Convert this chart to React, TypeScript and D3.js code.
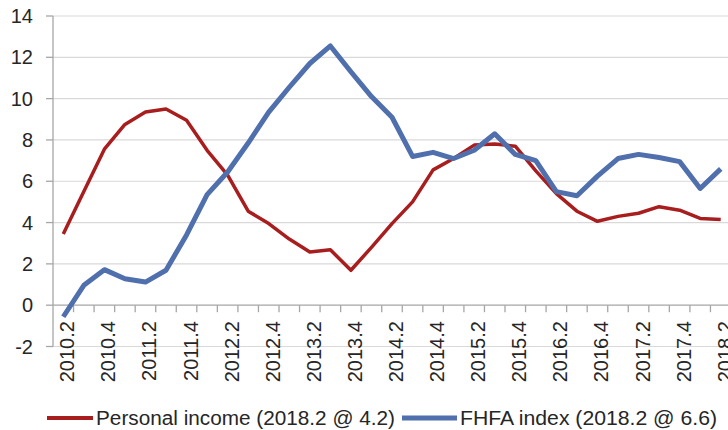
import React from "react";
import * as d3 from "d3";

const quarters: string[] = [
  "2010.2","2010.3","2010.4",
  "2011.1","2011.2","2011.3","2011.4",
  "2012.1","2012.2","2012.3","2012.4",
  "2013.1","2013.2","2013.3","2013.4",
  "2014.1","2014.2","2014.3","2014.4",
  "2015.1","2015.2","2015.3","2015.4",
  "2016.1","2016.2","2016.3","2016.4",
  "2017.1","2017.2","2017.3","2017.4",
  "2018.1","2018.2",
];

const personalIncome: number[] = [
  3.45, 5.5, 7.55, 8.75, 9.35, 9.5, 8.95, 7.5, 6.3, 4.55, 3.95, 3.2, 2.57,
  2.68, 1.69, 2.8, 3.95, 5.0, 6.55, 7.1, 7.75, 7.8, 7.7, 6.5, 5.4, 4.55,
  4.06, 4.3, 4.45, 4.77, 4.6, 4.2, 4.15,
];

const fhfaIndex: number[] = [
  -0.56, 0.96, 1.72, 1.28, 1.12, 1.69, 3.4, 5.35, 6.45, 7.85, 9.35, 10.55,
  11.7, 12.55, 11.3, 10.1, 9.1, 7.2, 7.4, 7.1, 7.5, 8.3, 7.3, 7.0, 5.5, 5.3,
  6.25, 7.1, 7.3, 7.15, 6.95, 5.65, 6.6,
];

const yTicks: number[] = [-2, 0, 2, 4, 6, 8, 10, 12, 14];

const seriesNames: string[] = [
  "Personal income (2018.2 @ 4.2)",
  "FHFA index (2018.2 @ 6.6)",
];

const RED = "#A81E1E";
const BLUE = "#4F6FAD";
const FONT = "'Liberation Sans', Arial, sans-serif";
const TEXT = "#262626";

export default function App() {
  const W = 728;
  const H = 430;
  const left = 53;
  const right = 731;
  const top = 16;
  const bottom = 346.5;

  const x = d3.scaleBand<string>().domain(quarters).range([left, right]).padding(0);
  const y = d3.scaleLinear().domain([-2, 14]).range([bottom, top]);
  const cx = (q: string) => (x(q) as number) + x.bandwidth() / 2;

  const line = d3
    .line<number>()
    .x((_, i) => cx(quarters[i]))
    .y((d) => y(d));

  const y0 = y(0);

  return (
    <svg
      width={W}
      height={H}
      style={{ position: "absolute", left: 0, top: 0, background: "#fff" }}
      fontFamily={FONT}
    >
      <rect x={0} y={0} width={W} height={H} fill="#fff" />
      {/* gridlines */}
      {yTicks
        .filter((t) => t !== 0)
        .map((t) => (
          <line
            key={"g" + t}
            x1={left}
            x2={right}
            y1={y(t)}
            y2={y(t)}
            stroke="#d9d9d9"
            strokeWidth={1.2}
          />
        ))}
      {/* y axis */}
      <line x1={left} x2={left} y1={top} y2={bottom} stroke="#a6a6a6" strokeWidth={1.3} />
      {yTicks.map((t) => (
        <g key={"yt" + t}>
          <line x1={left - 7} x2={left} y1={y(t)} y2={y(t)} stroke="#a6a6a6" strokeWidth={1.3} />
          <text
            x={33}
            y={y(t)}
            textAnchor="end"
            dominantBaseline="central"
            fontSize={20}
            fill={TEXT}
          >
            {t}
          </text>
        </g>
      ))}
      {/* x axis at 0 */}
      <line x1={left} x2={right} y1={y0} y2={y0} stroke="#a6a6a6" strokeWidth={1.3} />
      {quarters.map((q) => (
        <line
          key={"xt" + q}
          x1={(x(q) as number) + x.bandwidth()}
          x2={(x(q) as number) + x.bandwidth()}
          y1={y0}
          y2={y0 + 7}
          stroke="#a6a6a6"
          strokeWidth={1.3}
        />
      ))}
      {quarters.map((q, i) =>
        i % 2 === 0 ? (
          <text
            key={"xl" + q}
            transform={`translate(${cx(q) + 4},${y0 + 16}) rotate(-90)`}
            textAnchor="end"
            dominantBaseline="central"
            fontSize={20}
            fill={TEXT}
          >
            {q}
          </text>
        ) : null
      )}
      {/* series */}
      <path d={line(personalIncome) || ""} fill="none" stroke={RED} strokeWidth={3.5} strokeLinejoin="round" />
      <path d={line(fhfaIndex) || ""} fill="none" stroke={BLUE} strokeWidth={5} strokeLinejoin="round" />
      {/* legend */}
      <line x1={47} x2={93} y1={418} y2={418} stroke={RED} strokeWidth={4} />
      <text x={96} y={418} dominantBaseline="central" fontSize={20} fill={TEXT} textLength={299} lengthAdjust="spacingAndGlyphs">
        {seriesNames[0]}
      </text>
      <line x1={402} x2={457} y1={418} y2={418} stroke={BLUE} strokeWidth={5} />
      <text x={460} y={418} dominantBaseline="central" fontSize={20} fill={TEXT} textLength={257} lengthAdjust="spacingAndGlyphs">
        {seriesNames[1]}
      </text>
    </svg>
  );
}
